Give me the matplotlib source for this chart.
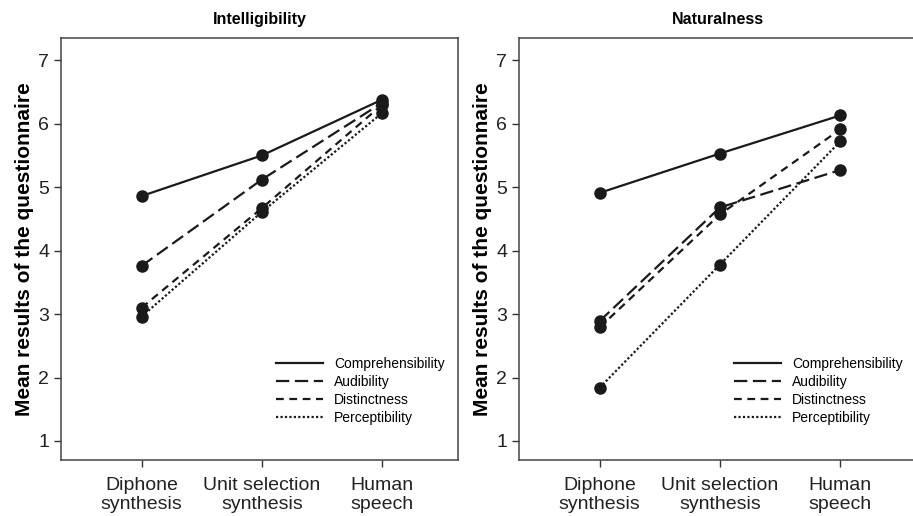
import matplotlib
matplotlib.use("Agg")
import matplotlib.pyplot as plt

plt.rcParams['font.family'] = ['Liberation Sans', 'DejaVu Sans']

conditions = ["Diphone\nsynthesis", "Unit selection\nsynthesis", "Human\nspeech"]
criteria = ["Comprehensibility", "Audibility", "Distinctness", "Perceptibility"]

# mean scores per criterion: diphone, unit selection, human
intelligibility = {
    "Comprehensibility": [4.86, 5.50, 6.38],
    "Audibility": [3.76, 5.12, 6.33],
    "Distinctness": [3.10, 4.67, 6.30],
    "Perceptibility": [2.96, 4.61, 6.17],
}
naturalness = {
    "Comprehensibility": [4.91, 5.53, 6.13],
    "Audibility": [2.89, 4.68, 5.27],
    "Distinctness": [2.79, 4.57, 5.91],
    "Perceptibility": [1.84, 3.78, 5.72],
}

styles = {
    "Comprehensibility": "-",
    "Audibility": (0, (6, 2.5)),
    "Distinctness": (0, (3.5, 2.5)),
    "Perceptibility": (0, (1, 1)),
}

fig = plt.figure(figsize=(9.13, 5.16), dpi=100, facecolor="white")
ax1 = fig.add_axes([0.0668, 0.1085, 0.4348, 0.8178])
ax2 = fig.add_axes([0.5685, 0.1085, 0.4348, 0.8178])


def draw(ax, data, title):
    x = list(range(len(conditions)))
    for name in criteria:
        ax.plot(x, data[name], linestyle=styles[name], color="#1a1a1a",
                linewidth=1.6, marker="o", markersize=8, label=name)
    ax.set_xlim(-0.67, 2.63)
    ax.set_ylim(0.7, 7.35)
    ax.set_xticks(x)
    ax.set_xticklabels(conditions, fontsize=14, color="#222222", linespacing=1.2)
    ax.set_yticks(range(1, 8))
    ax.tick_params(axis="both", labelsize=14, length=5, width=1,
                   colors="#333333", labelcolor="#222222")
    ax.tick_params(axis="x", pad=7)
    for s in ax.spines.values():
        s.set_color("#444444")
        s.set_linewidth(1.1)
    ax.set_title(title, fontsize=11.5, fontweight="bold", pad=10)
    ax.set_ylabel("Mean results of the questionnaire", fontsize=15,
                  fontweight="bold", labelpad=3)
    ax.legend(loc="upper left", bbox_to_anchor=(0.527, 0.258), frameon=False,
              fontsize=10, handlelength=3.4, handletextpad=0.8,
              labelspacing=0.3, borderaxespad=0, markerscale=0)


draw(ax1, intelligibility, "Intelligibility")
draw(ax2, naturalness, "Naturalness")
# the right panel runs off the edge of the page in the original
ax2.spines["right"].set_visible(False)

fig.savefig("out.png", dpi=100, facecolor="white")
